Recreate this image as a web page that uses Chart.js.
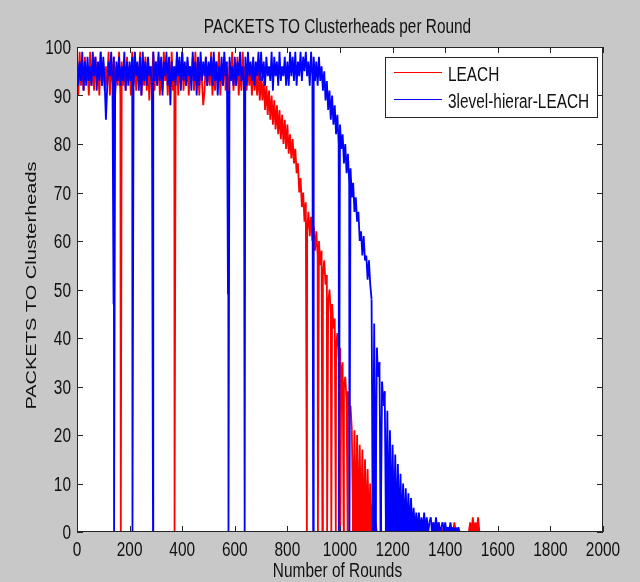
<!DOCTYPE html>
<html>
<head>
<meta charset="utf-8">
<script src="https://cdn.jsdelivr.net/npm/chart.js@4"></script>
<style>
  html, body { margin: 0; background: #c8c8c8; }
  #wrap { width: 640px; height: 582px; }
</style>
</head>
<body>
<div id="wrap"><canvas id="chart" width="640" height="582"></canvas></div>
<script>
// values are sampled every 5 rounds, starting at round 0
const sampleStep = 5;

const leachVals = [
  97,90,99,92,96,91,98,93,96,90,99,92,97,91,98,94,96,90,99,92,
  97,91,96,92,99,90,97,93,98,91,96,92,99,90,97,92,96,91,98,93,
  96,90,99,92,97,91,96,93,99,90,96,92,98,91,97,89,96,93,99,91,
  97,92,98,90,96,91,99,93,97,90,97,92,99,91,96,93,98,90,97,92,
  99,91,96,92,97,90,96,93,98,91,99,92,97,90,97,93,88,91,98,92,
  96,92,99,90,96,91,97,93,99,90,96,92,98,91,96,89,97,93,99,91,
  96,92,98,90,96,91,99,93,96,91,97,92,96,90,97,91,95,90,95,89,
  94,89,93,87,92,86,91,85,90,84,89,83,88,82,87,81,86,80,85,79,
  84,78,82,77,81,76,79,74,76,70,73,67,70,64,68,62,66,61,65,60,
  63,58,62,57,60,55,58,53,56,51,53,47,50,45,47,42,44,38,41,36,
  38,33,35,30,32,27,29,24,26,21,0,21,0,20,0,18,0,17,0,15,
  0,13,0,10,0,6,0,2,0,0,0,0,0,0,0,0,0,0,0,0,
  0,0,0,0,0,0,0,0,0,0,0,0,0,0,0,0,0,0,0,0,
  0,0,0,0,0,0,0,0,0,0,0,2,0,1,0,2,0,1,0,0,
  0,1,0,0,0,0,0,2,0,0,0,0,0,0,0,0,0,0,0,2,
  0,3,0,2,0,3,0,0
];
// single rounds that drop out of the band
const leachDropRounds = [166, 167, 371, 874, 916, 933, 951, 967, 984, 1001, 1014, 1029, 2000];
const leachDropVals   = [48,  0,   0,   0,   0,   0,   0,   0,   0,   0,    0,    0,    0];

const hierVals = [
  98,92,97,93,99,91,97,92,98,93,96,92,99,94,98,91,97,93,99,92,
  98,93,85,92,97,94,99,92,98,90,97,93,98,92,96,93,99,91,97,92,
  97,93,98,92,99,94,97,91,98,90,99,93,97,92,98,94,96,91,99,93,
  97,92,99,93,98,90,97,94,99,92,98,88,97,93,96,92,99,94,98,91,
  99,93,97,92,98,94,96,91,99,93,97,90,98,92,99,93,97,94,98,92,
  97,94,98,92,99,93,97,90,96,93,98,92,99,94,97,91,98,93,96,92,
  98,92,97,94,99,93,96,91,98,92,99,94,97,93,98,92,97,94,99,93,
  99,93,97,92,98,94,96,93,99,91,98,94,97,92,99,93,96,94,98,92,
  97,92,99,94,98,93,99,92,97,94,99,93,98,95,99,94,97,92,99,94,
  98,93,97,92,98,93,96,91,95,89,93,87,91,85,90,84,88,82,86,80,
  84,79,82,76,80,74,78,72,75,69,72,66,69,64,66,60,62,57,61,56,
  57,52,56,51,48,0,43,0,38,32,35,0,31,26,29,0,25,0,21,0,
  18,0,16,0,14,0,12,0,10,0,9,0,8,0,7,0,5,0,4,0,
  4,0,3,0,4,0,3,0,2,3,0,2,0,3,0,2,0,1,2,0,
  2,0,1,0,2,0,1,0,1,0,1,0
];
const hierDropRounds = [139, 141, 211, 289, 574, 576, 637, 638, 898, 996, 1036, 2000];
const hierDropVals   = [47,  0,   0,   0,   49,  0,   48,  0,   0,   0,   0,    0];

const xTicks = [0, 200, 400, 600, 800, 1000, 1200, 1400, 1600, 1800, 2000];
const yTicks = [0, 10, 20, 30, 40, 50, 60, 70, 80, 90, 100];

// the reference figure is squeezed sideways, so text is drawn narrower than it is tall
const SQ = 0.77;
const FONT = "20px 'Liberation Sans', Arial, sans-serif";
const TXT = "#111";

function buildPoints(vals, dropRounds, dropVals) {
  const pts = vals.map((v, i) => ({ x: i * sampleStep, y: v }));
  dropRounds.forEach((r, i) => pts.push({ x: r, y: dropVals[i] }));
  pts.sort((a, b) => a.x - b.x);
  return pts;
}

// where the sampled series keeps falling to zero the trace reads as a solid block
function zeroComb(color) {
  return (c) => {
    const a = c.p0.parsed, b = c.p1.parsed;
    const sampled = a.x % sampleStep === 0 && b.x % sampleStep === 0;
    return sampled && (a.y === 0) !== (b.y === 0) ? color : "rgba(0,0,0,0)";
  };
}

function squeezed(ctx, text, x, y, align) {
  ctx.save();
  ctx.translate(x, y);
  ctx.scale(SQ, 1);
  ctx.textAlign = align;
  ctx.fillText(text, 0, 0);
  ctx.restore();
}

// white plot area, MATLAB style box with inward ticks, texts and legend
const matlabAxes = {
  id: "matlabAxes",
  beforeDatasetsDraw(chart) {
    const { ctx, chartArea: a } = chart;
    ctx.save();
    ctx.fillStyle = "#ffffff";
    ctx.fillRect(a.left, a.top, a.right - a.left, a.bottom - a.top);
    ctx.restore();
  },
  afterDraw(chart) {
    const { ctx, chartArea: a, scales } = chart;
    ctx.save();
    ctx.strokeStyle = "#262626";
    ctx.lineWidth = 1;
    ctx.strokeRect(a.left + 0.5, a.top + 0.5, a.right - a.left - 1, a.bottom - a.top - 1);
    ctx.beginPath();
    xTicks.forEach((v) => {
      const px = Math.round(scales.x.getPixelForValue(v)) + 0.5;
      ctx.moveTo(px, a.bottom); ctx.lineTo(px, a.bottom - 6);
      ctx.moveTo(px, a.top); ctx.lineTo(px, a.top + 6);
    });
    yTicks.forEach((v) => {
      const py = Math.round(scales.y.getPixelForValue(v)) + 0.5;
      ctx.moveTo(a.left, py); ctx.lineTo(a.left + 6, py);
      ctx.moveTo(a.right, py); ctx.lineTo(a.right - 6, py);
    });
    ctx.stroke();

    ctx.fillStyle = TXT;
    ctx.font = FONT;
    ctx.textBaseline = "alphabetic";

    // tick labels
    xTicks.forEach((v) => squeezed(ctx, String(v), scales.x.getPixelForValue(v), a.bottom + 24, "center"));
    yTicks.forEach((v) => squeezed(ctx, String(v), a.left - 6, scales.y.getPixelForValue(v) + 7, "right"));

    // titles
    const midX = (a.left + a.right) / 2 - 2.5;
    squeezed(ctx, "PACKETS TO Clusterheads per Round", midX, 33, "center");
    squeezed(ctx, "Number of Rounds", midX, a.bottom + 45, "center");
    ctx.save();
    ctx.translate(36, (a.top + a.bottom) / 2 - 4);
    ctx.scale(SQ, 1);
    ctx.rotate(-Math.PI / 2);
    ctx.textAlign = "center";
    ctx.fillText("PACKETS TO Clusterheads", 0, 0);
    ctx.restore();

    // legend
    const items = chart.data.datasets.map((d) => ({ label: d.label, color: d.borderColor }));
    const textW = Math.max(...items.map((it) => ctx.measureText(it.label).width)) * SQ;
    const boxW = Math.round(9 + 48 + 6 + textW + 8);
    const boxH = 60;
    const bx = a.right - 6 - boxW;
    const by = a.top + 10;
    ctx.fillStyle = "#fff";
    ctx.fillRect(bx, by, boxW, boxH);
    ctx.strokeStyle = "#262626";
    ctx.strokeRect(bx + 0.5, by + 0.5, boxW, boxH);
    items.forEach((it, i) => {
      const ly = by + 15 + i * 27;
      ctx.strokeStyle = it.color;
      ctx.beginPath();
      ctx.moveTo(bx + 9, ly + 0.5);
      ctx.lineTo(bx + 57, ly + 0.5);
      ctx.stroke();
      ctx.fillStyle = TXT;
      squeezed(ctx, it.label, bx + 63, ly + 9, "left");
    });
    ctx.restore();
  }
};

new Chart(document.getElementById("chart"), {
  type: "line",
  data: {
    datasets: [
      {
        label: "LEACH",
        data: buildPoints(leachVals, leachDropRounds, leachDropVals),
        borderColor: "#ff0000",
        backgroundColor: "rgba(0,0,0,0)",
        fill: "origin",
        segment: { backgroundColor: zeroComb("#ff0000") },
        borderWidth: 1.8,
        borderJoinStyle: "bevel",
        pointRadius: 0,
        tension: 0,
        order: 2
      },
      {
        label: "3level-hierar-LEACH",
        data: buildPoints(hierVals, hierDropRounds, hierDropVals),
        borderColor: "#0000ff",
        backgroundColor: "rgba(0,0,0,0)",
        fill: "origin",
        segment: { backgroundColor: zeroComb("#0000ff") },
        borderWidth: 1.8,
        borderJoinStyle: "bevel",
        pointRadius: 0,
        tension: 0,
        order: 1
      }
    ]
  },
  options: {
    responsive: false,
    animation: false,
    events: [],
    layout: { padding: { top: 47, right: 37, left: 0, bottom: 0 } },
    plugins: {
      legend: { display: false },
      tooltip: { enabled: false },
      title: { display: false }
    },
    scales: {
      x: {
        type: "linear",
        min: 0,
        max: 2000,
        grid: { display: false, drawTicks: false },
        border: { display: false },
        ticks: { display: false },
        afterBuildTicks: (s) => { s.ticks = xTicks.map((v) => ({ value: v })); },
        afterFit: (s) => { s.height = 50; }
      },
      y: {
        min: 0,
        max: 100,
        grid: { display: false, drawTicks: false },
        border: { display: false },
        ticks: { display: false },
        afterBuildTicks: (s) => { s.ticks = yTicks.map((v) => ({ value: v })); },
        afterFit: (s) => { s.width = 77; }
      }
    }
  },
  plugins: [matlabAxes]
});
</script>
</body>
</html>
